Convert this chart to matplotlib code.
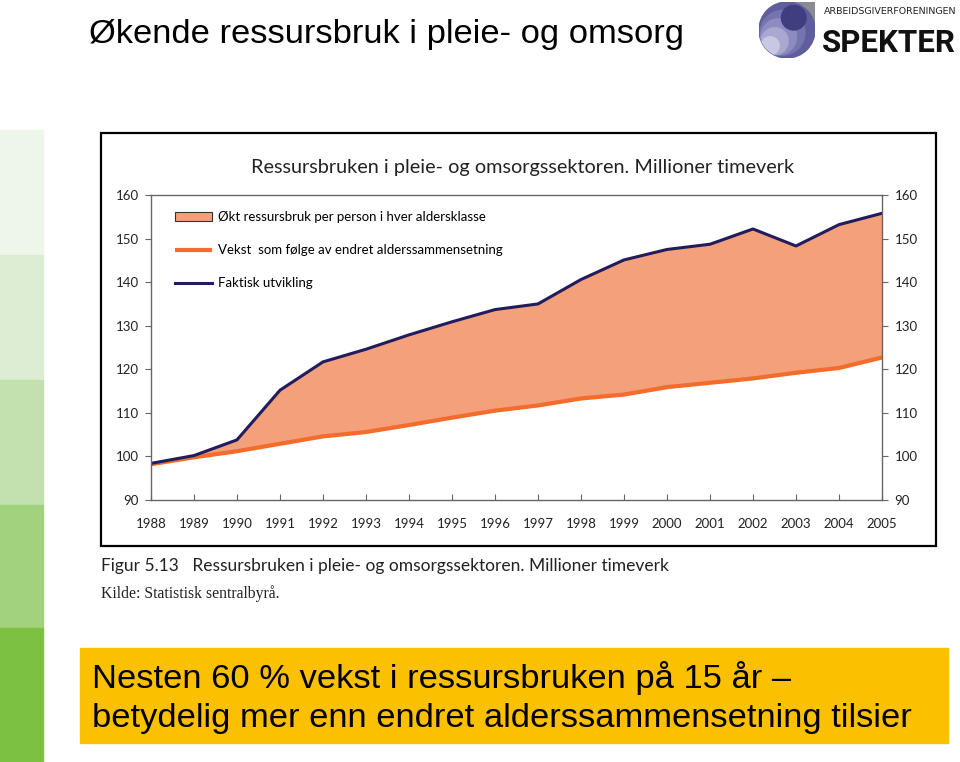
import matplotlib
matplotlib.use('Agg')
import matplotlib.pyplot as plt
from matplotlib.patches import Rectangle, Circle

# data (millioner timeverk)
years = list(range(1988, 2006))
faktisk = [98.4, 100.2, 103.8, 115.2, 121.7, 124.6, 127.9, 130.9, 133.7, 135.0,
           140.6, 145.1, 147.5, 148.7, 152.2, 148.3, 153.2, 155.8]
alder = [98.2, 99.8, 101.2, 102.9, 104.6, 105.6, 107.2, 108.9, 110.5, 111.7,
         113.3, 114.2, 115.9, 116.9, 117.9, 119.2, 120.3, 122.7]
yticks = [90, 100, 110, 120, 130, 140, 150, 160]

labels = ['Økt ressursbruk per person i hver aldersklasse',
          'Vekst  som følge av endret alderssammensetning',
          'Faktisk utvikling']

fill_col = '#F4A07B'
orange = '#F36C2B'
navy = '#221C5C'
chart_font = 'Lato'

W, H = 960, 762
fig = plt.figure(figsize=(W / 100, H / 100), dpi=100)


def fx(px):
    return px / W


def fy(py):
    return 1 - py / H


# slide title
fig.text(fx(89), fy(34), 'Økende ressursbruk i pleie- og omsorg', fontsize=24.8,
         family='Liberation Sans', va='center', ha='left')

# green strip on the left
greens = ['#EEF6EA', '#DCEDD3', '#C3E1AE', '#A3D27F', '#7DC142']
edges = [130, 255, 380, 505, 628, 762]
for i, c in enumerate(greens):
    fig.patches.append(Rectangle((0, fy(edges[i + 1])), fx(43), fy(edges[i]) - fy(edges[i + 1]),
                                 transform=fig.transFigure, color=c, zorder=0))

# logo
lax = fig.add_axes([fx(758), fy(58), fx(58), 56 / H])
lax.set_xlim(0, 1)
lax.set_ylim(0, 1)
lax.set_aspect('equal')
lax.axis('off')
lax.add_patch(Rectangle((0.55, 0.55), 0.45, 0.45, color='#8A8A95'))
big = Circle((0.5, 0.5), 0.5, color='#5E5E9E')
lax.add_patch(big)
for (cx, cy, r, c) in [(0.42, 0.45, 0.4, '#7474B0'), (0.35, 0.38, 0.32, '#8C8CC0'),
                       (0.28, 0.3, 0.24, '#A8A8D0'), (0.2, 0.22, 0.16, '#C8C8E2'),
                       (0.62, 0.72, 0.22, '#3E3E80')]:
    p = Circle((cx, cy), r, color=c)
    lax.add_patch(p)
    p.set_clip_path(big)
fig.text(fx(824), fy(11), 'ARBEIDSGIVERFORENINGEN', fontsize=6.8, family='DejaVu Sans',
         va='center', ha='left', color='#222222')
fig.text(fx(822), fy(43), 'SPEKTER', fontsize=22.5, family='Roboto', weight='bold',
         va='center', ha='left', color='#111111')

# chart frame
fig.patches.append(Rectangle((fx(101), fy(546)), fx(835), (546 - 133) / H,
                             transform=fig.transFigure, fill=False, ec='black', lw=1.6))
fig.text(fx(523), fy(168), 'Ressursbruken i pleie- og omsorgssektoren. Millioner timeverk',
         fontsize=14.3, family=chart_font, ha='center', va='center', color='#222222')

ax = fig.add_axes([fx(151), fy(500), fx(882 - 151), (500 - 195) / H])
ax.fill_between(years, alder, faktisk, color=fill_col, lw=0, label=labels[0])
ax.plot(years, alder, color=orange, lw=3, label=labels[1], solid_capstyle='butt')
ax.plot(years, faktisk, color=navy, lw=2.2, label=labels[2])
ax.set_xlim(1988, 2005)
ax.set_ylim(90, 160)
ax.set_xticks(years)
ax.set_yticks(yticks)
for s in ax.spines.values():
    s.set_color('#666666')
    s.set_linewidth(1)
ax.tick_params(axis='both', colors='#666666', labelcolor='#222222', labelsize=9.5, length=4)
ax.tick_params(axis='x', direction='in', pad=13)
ax.tick_params(axis='y', right=True, labelright=True, pad=5)
for t in ax.get_xticklabels() + ax.get_yticklabels():
    t.set_family(chart_font)

h, l = ax.get_legend_handles_labels()
leg = ax.legend(h, l, loc='upper left', bbox_to_anchor=(0.017, 0.985), frameon=False,
                handlelength=2.8, handletextpad=0.45, labelspacing=1.58,
                prop={'family': chart_font, 'size': 9.5})
leg.legend_handles[0].set_edgecolor('#333333')
leg.legend_handles[0].set_linewidth(0.8)

# caption under the chart
fig.text(fx(101), fy(566), 'Figur 5.13   Ressursbruken i pleie- og omsorgssektoren. Millioner timeverk',
         fontsize=12.5, family=chart_font, ha='left', va='center', color='#222222')
fig.text(fx(101), fy(594), 'Kilde: Statistisk sentralbyrå.', fontsize=11.3,
         family='Liberation Serif', ha='left', va='center', color='#222222')

# yellow banner
fig.patches.append(Rectangle((fx(80), fy(743)), fx(868), (743 - 648) / H,
                             transform=fig.transFigure, color='#FBC000', zorder=0))
fig.text(fx(92), fy(678), 'Nesten 60 % vekst i ressursbruken på 15 år –', fontsize=24.8,
         family='Liberation Sans', ha='left', va='center')
fig.text(fx(92), fy(718), 'betydelig mer enn endret alderssammensetning tilsier', fontsize=24.8,
         family='Liberation Sans', ha='left', va='center')

fig.savefig('out.png', dpi=100)
